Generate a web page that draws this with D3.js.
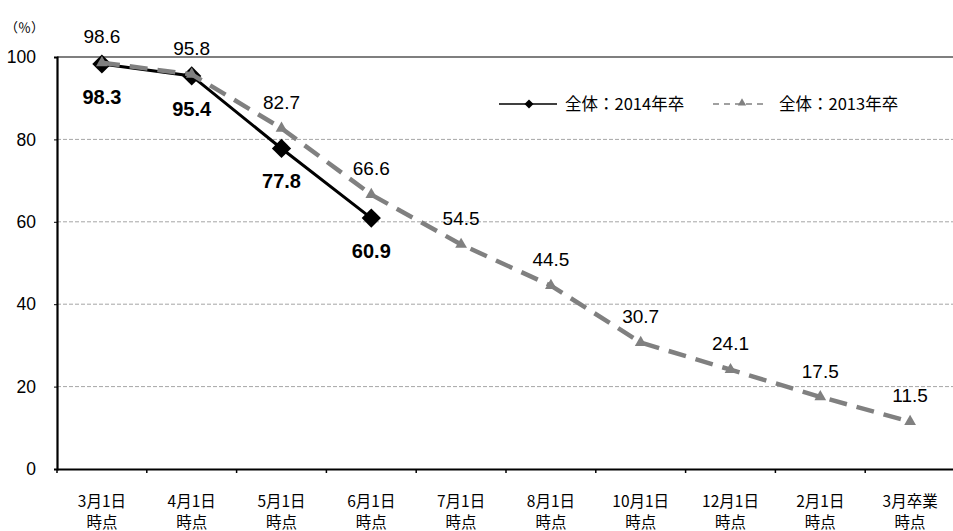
<!DOCTYPE html>
<html>
<head>
<meta charset="utf-8">
<script src="https://cdn.jsdelivr.net/npm/d3@7"></script>
<style>
  body { margin: 0; background: #fff; }
  text { font-family: Arial, "Liberation Sans", sans-serif; }
  .jp { font-family: "Noto Sans CJK JP", sans-serif; }
</style>
</head>
<body>
<svg id="chart"></svg>
<script>
// categories (two-line labels)
const categories = ['3月1日|時点', '4月1日|時点', '5月1日|時点', '6月1日|時点', '7月1日|時点',
                    '8月1日|時点', '10月1日|時点', '12月1日|時点', '2月1日|時点', '3月卒業|時点'];
const values2014 = [98.3, 95.4, 77.8, 60.9];
const values2013 = [98.6, 95.8, 82.7, 66.6, 54.5, 44.5, 30.7, 24.1, 17.5, 11.5];
const yTicks = [0, 20, 40, 60, 80, 100];
const seriesNames = ['全体：2014年卒', '全体：2013年卒'];

const width = 953, height = 531;
const svg = d3.select('#chart').attr('width', width).attr('height', height);

const x = d3.scaleBand().domain(categories).range([57, 955]).padding(0);
const y = d3.scaleLinear().domain([0, 100]).range([469, 57]);
const cx = (i) => x(categories[i]) + x.bandwidth() / 2;

// grid lines
svg.append('g')
  .selectAll('line')
  .data(yTicks.filter(t => t > 0 && t < 100))
  .join('line')
    .attr('x1', 57).attr('x2', width)
    .attr('y1', d => y(d)).attr('y2', d => y(d))
    .attr('stroke', '#a6a6a6')
    .attr('stroke-width', 1)
    .attr('stroke-dasharray', '4,2');

// top line at 100
svg.append('line')
  .attr('x1', 57).attr('x2', width)
  .attr('y1', y(100)).attr('y2', y(100))
  .attr('stroke', '#000').attr('stroke-width', 1.2);

// y axis
const yAxis = svg.append('g')
  .attr('transform', 'translate(57,0)')
  .call(d3.axisLeft(y).tickValues(yTicks).tickSize(3).tickPadding(18));
yAxis.select('.domain').attr('stroke-width', 2.2);
yAxis.selectAll('text')
  .attr('font-size', 17.5)
  .attr('fill', '#000')
  .attr('font-family', 'Arial, "Liberation Sans", sans-serif');

// x axis
const xAxis = svg.append('g')
  .attr('transform', `translate(0,${y(0)})`)
  .call(d3.axisBottom(x).tickSize(0).tickFormat(''));
xAxis.select('.domain').attr('stroke-width', 2.2);
xAxis.selectAll('.tick').remove();

// x ticks at band boundaries
svg.append('g')
  .selectAll('line')
  .data(categories)
  .join('line')
    .attr('x1', d => x(d)).attr('x2', d => x(d))
    .attr('y1', y(0)).attr('y2', y(0) + 4)
    .attr('stroke', '#000').attr('stroke-width', 1.5);

// x labels
const xl = svg.append('g')
  .selectAll('text')
  .data(categories)
  .join('text')
    .attr('class', 'jp')
    .attr('text-anchor', 'middle')
    .attr('font-size', 15.5)
    .attr('fill', '#000');
xl.each(function(d) {
  const parts = d.split('|');
  const t = d3.select(this);
  parts.forEach((p, k) => {
    t.append('tspan')
      .attr('x', x(d) + x.bandwidth() / 2)
      .attr('y', 507 + k * 21)
      .text(p);
  });
});

// unit label
svg.append('text')
  .attr('class', 'jp')
  .attr('x', 5).attr('y', 32)
  .attr('font-size', 13)
  .text('（％）');

// 2014 line
const line = d3.line().x((d, i) => cx(i)).y(d => y(d));
svg.append('path')
  .datum(values2014)
  .attr('d', line)
  .attr('fill', 'none')
  .attr('stroke', '#000')
  .attr('stroke-width', 3);

svg.append('g')
  .selectAll('path')
  .data(values2014)
  .join('path')
    .attr('d', d3.symbol(d3.symbolSquare, 185))
    .attr('transform', (d, i) => `translate(${cx(i)},${y(d)}) rotate(45)`)
    .attr('fill', '#000');

// 2013 line
svg.append('path')
  .datum(values2013)
  .attr('d', line)
  .attr('fill', 'none')
  .attr('stroke', '#808080')
  .attr('stroke-width', 4.5)
  .attr('stroke-dasharray', '18,10');

svg.append('g')
  .selectAll('path')
  .data(values2013)
  .join('path')
    .attr('d', d3.symbol(d3.symbolTriangle, 60))
    .attr('transform', (d, i) => `translate(${cx(i)},${y(d)})`)
    .attr('fill', '#808080');

// labels 2013 (above)
svg.append('g')
  .selectAll('text')
  .data(values2013)
  .join('text')
    .attr('x', (d, i) => cx(i))
    .attr('y', d => y(d) - 26)
    .attr('dy', '0.35em')
    .attr('text-anchor', 'middle')
    .attr('font-size', 19)
    .attr('fill', '#000')
    .text(d => d.toFixed(1));

// labels 2014 (below, bold)
svg.append('g')
  .selectAll('text')
  .data(values2014)
  .join('text')
    .attr('x', (d, i) => cx(i))
    .attr('y', d => y(d) + 33)
    .attr('dy', '0.35em')
    .attr('text-anchor', 'middle')
    .attr('font-size', 20)
    .attr('font-weight', 'bold')
    .attr('fill', '#000')
    .text(d => d.toFixed(1));

// legend
const lg = svg.append('g');
lg.append('line')
  .attr('x1', 499).attr('x2', 557).attr('y1', 104).attr('y2', 104)
  .attr('stroke', '#000').attr('stroke-width', 1.5);
lg.append('path')
  .attr('d', d3.symbol(d3.symbolSquare, 40))
  .attr('transform', 'translate(529,104) rotate(45)')
  .attr('fill', '#000');
lg.append('text')
  .attr('class', 'jp')
  .attr('x', 565).attr('y', 104).attr('dy', '0.36em')
  .attr('font-size', 16.5)
  .text(seriesNames[0]);

lg.append('line')
  .attr('x1', 713).attr('x2', 767).attr('y1', 104).attr('y2', 104)
  .attr('stroke', '#a0a0a0').attr('stroke-width', 2)
  .attr('stroke-dasharray', '6,5');
lg.append('path')
  .attr('d', d3.symbol(d3.symbolTriangle, 30))
  .attr('transform', 'translate(742,103)')
  .attr('fill', '#808080');
lg.append('text')
  .attr('class', 'jp')
  .attr('x', 779).attr('y', 104).attr('dy', '0.36em')
  .attr('font-size', 16.5)
  .text(seriesNames[1]);
</script>
</body>
</html>
